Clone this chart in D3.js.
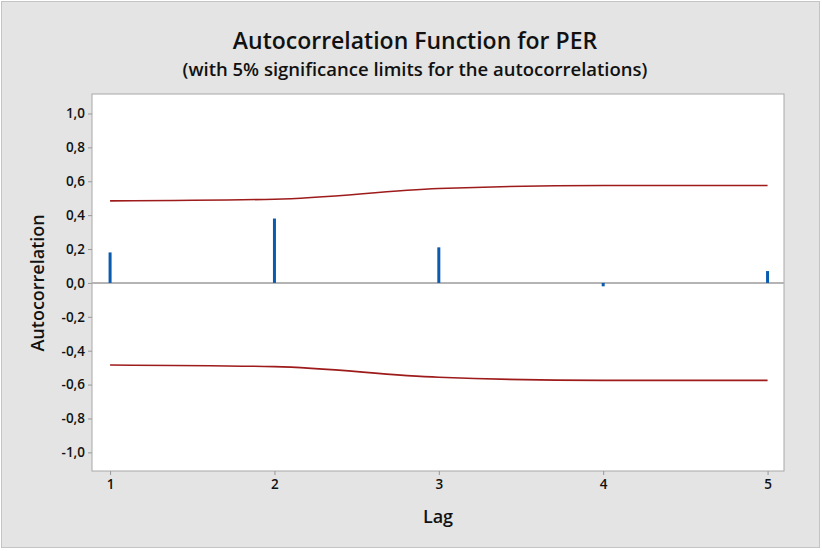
<!DOCTYPE html>
<html>
<head>
<meta charset="utf-8">
<script src="https://cdn.jsdelivr.net/npm/d3@7"></script>
<style>
  body { margin: 0; background: #fff; }
  text { font-family: "Open Sans", "Noto Sans", sans-serif; fill: #111; }
</style>
</head>
<body>
<div id="acf"></div>
<script>
// lags and autocorrelations
const lags = [1, 2, 3, 4, 5];
const acfValues = [0.18, 0.38, 0.21, -0.02, 0.07];
const upperLimit = [0.484, 0.494, 0.557, 0.575, 0.575];
const lowerLimit = [-0.484, -0.494, -0.557, -0.575, -0.575];
const yTicks = [1, 0.8, 0.6, 0.4, 0.2, 0, -0.2, -0.4, -0.6, -0.8, -1];

const width = 822, height = 551;
const margin = {top: 94, right: 38, bottom: 80, left: 92};

const svg = d3.select("#acf").append("svg")
    .attr("width", width)
    .attr("height", height);

// grey outer frame
svg.append("rect")
    .attr("x", 1.5).attr("y", 1.5)
    .attr("width", width - 4).attr("height", height - 5)
    .attr("fill", "#e4e4e4")
    .attr("stroke", "#c4c4c4");

const x = d3.scaleLinear().domain([0.89, 5.1]).range([margin.left, width - margin.right]);
const y = d3.scaleLinear().domain([-1.11, 1.115]).range([height - margin.bottom, margin.top]);

// plot area
svg.append("rect")
    .attr("x", margin.left).attr("y", margin.top)
    .attr("width", width - margin.left - margin.right)
    .attr("height", height - margin.top - margin.bottom)
    .attr("fill", "#fff")
    .attr("stroke", "#a8a8a8");

const fmt = d => d3.format(".1f")(d).replace(".", ",").replace("−", "-");

// Y axis
const yAxis = svg.append("g")
    .attr("transform", `translate(${margin.left},0)`)
    .call(d3.axisLeft(y).tickValues(yTicks).tickFormat(fmt).tickSize(4).tickSizeOuter(0).tickPadding(3));
yAxis.select(".domain").remove();
yAxis.selectAll("line").attr("stroke", "#999");
yAxis.selectAll("text").style("font-size", "13.5px").style("font-weight", 600)
    .style("font-family", "'Open Sans', sans-serif").attr("fill", "#111");

// X axis
const xAxis = svg.append("g")
    .attr("transform", `translate(0,${height - margin.bottom})`)
    .call(d3.axisBottom(x).tickValues(lags).tickFormat(d3.format("d")).tickSize(4).tickSizeOuter(0).tickPadding(4));
xAxis.select(".domain").remove();
xAxis.selectAll("line").attr("stroke", "#999");
xAxis.selectAll("text").style("font-size", "13.5px").style("font-weight", 600)
    .style("font-family", "'Open Sans', sans-serif").attr("fill", "#111");

// zero line
svg.append("line")
    .attr("x1", margin.left).attr("x2", width - margin.right)
    .attr("y1", y(0)).attr("y2", y(0))
    .attr("stroke", "#b4b4b4").attr("stroke-width", 2);

// significance limits
const limitLine = d3.line()
    .x((d, i) => x(lags[i]))
    .y(d => y(d))
    .curve(d3.curveMonotoneX);

[upperLimit, lowerLimit].forEach(arr => {
    svg.append("path")
        .attr("d", limitLine(arr))
        .attr("fill", "none")
        .attr("stroke", "#9e1b1b")
        .attr("stroke-width", 1.6);
});

// acf bars
svg.selectAll(".bar")
    .data(acfValues)
    .enter().append("rect")
    .attr("class", "bar")
    .attr("x", (d, i) => x(lags[i]) - 1.5)
    .attr("y", d => Math.min(y(d), y(0)))
    .attr("width", 3)
    .attr("height", d => Math.abs(y(d) - y(0)))
    .attr("fill", "#0a5bb0");

// titles
const cx = 415;
svg.append("text")
    .attr("x", cx).attr("y", 49)
    .attr("text-anchor", "middle")
    .style("font-size", "23px").style("font-weight", 600)
    .text("Autocorrelation Function for PER");

svg.append("text")
    .attr("x", cx).attr("y", 76)
    .attr("text-anchor", "middle")
    .style("font-size", "18.5px").style("font-weight", 600)
    .text("(with 5% significance limits for the autocorrelations)");

svg.append("text")
    .attr("x", (margin.left + width - margin.right) / 2).attr("y", 523)
    .attr("text-anchor", "middle")
    .style("font-size", "18px").style("font-weight", 600)
    .text("Lag");

svg.append("text")
    .attr("transform", `translate(44,${y(0)}) rotate(-90)`)
    .attr("text-anchor", "middle")
    .style("font-size", "18px").style("font-weight", 600)
    .text("Autocorrelation");
</script>
</body>
</html>
